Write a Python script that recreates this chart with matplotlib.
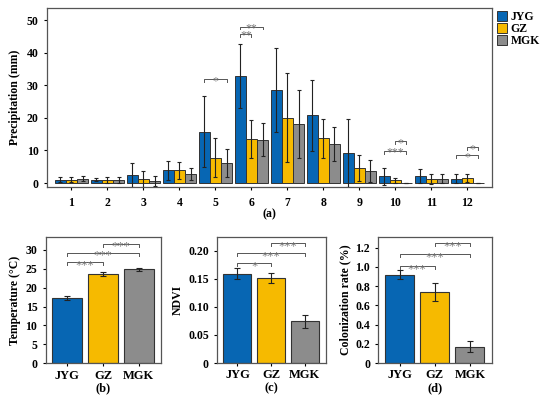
import matplotlib
matplotlib.use("Agg")
import matplotlib.pyplot as plt
import numpy as np
from matplotlib.patches import Patch

plt.rcParams['font.family'] = ['Liberation Serif', 'DejaVu Serif']

months = ['1', '2', '3', '4', '5', '6', '7', '8', '9', '10', '11', '12']
groups = ['JYG', 'GZ', 'MGK']
colors = ['#0766B3', '#F6BA00', '#8C8C8C']

jyg_p = [1.1, 1.0, 2.5, 4.0, 15.8, 32.8, 28.5, 20.8, 9.3, 2.1, 2.2, 1.4]
jyg_e = [0.8, 0.5, 3.7, 2.9, 10.8, 9.9, 12.8, 10.9, 10.5, 2.6, 2.1, 1.3]
gz_p = [1.1, 1.0, 1.2, 3.9, 7.8, 13.5, 20.0, 13.7, 4.6, 0.8, 1.2, 1.5]
gz_e = [0.9, 0.9, 2.5, 2.5, 5.9, 5.7, 13.6, 6.0, 3.9, 0.7, 1.5, 1.3]
mgk_p = [1.4, 1.0, 0.6, 2.7, 6.1, 13.3, 18.1, 11.9, 3.7, 0.1, 1.4, 0.1]
mgk_e = [0.9, 0.9, 1.5, 1.8, 4.2, 5.0, 10.5, 5.2, 3.4, 0.0, 1.5, 0.0]

# significance brackets in (a): month index, group i, group j, height, label
sig_a = [(5, 0, 2, 31.9, '*'), (6, 0, 1, 45.8, '**'), (6, 0, 2, 48.0, '**'),
         (10, 0, 2, 9.9, '***'), (10, 1, 2, 12.9, '*'),
         (12, 0, 2, 8.5, '*'), (12, 1, 2, 11.0, '*')]

temp = [17.3, 23.6, 24.9]
temp_e = [0.5, 0.4, 0.4]
ndvi = [0.159, 0.152, 0.074]
ndvi_e = [0.010, 0.009, 0.011]
colo = [0.92, 0.74, 0.17]
colo_e = [0.05, 0.09, 0.06]

sig_b = [(0, 1, 26.7, '***'), (0, 2, 29.2, '***'), (1, 2, 31.6, '***')]
sig_c = [(0, 1, 0.1776, '*'), (0, 2, 0.196, '***'), (1, 2, 0.2137, '***')]
sig_d = [(0, 1, 1.01, '***'), (0, 2, 1.134, '***'), (1, 2, 1.246, '***')]

fig = plt.figure(figsize=(5.5, 3.99), dpi=100)
spine_c = '#555555'
tick_fs = 8.5
edge = '#333333'
star_c = '#777777'


def style(ax):
    for s in ax.spines.values():
        s.set_color(spine_c)
        s.set_linewidth(0.9)
    ax.tick_params(axis='both', colors='black', labelsize=tick_fs, width=0.8, length=2.5)
    for lab in ax.get_xticklabels() + ax.get_yticklabels():
        lab.set_fontweight('bold')


def stars(ax, xc, y, lab, fs, off):
    # asterisks straddling the bracket line
    ax.annotate(lab, (xc, y), xytext=(0, off), textcoords='offset points',
                ha='center', va='baseline', fontsize=fs, color=star_c)


# ---- (a)
ax = fig.add_axes([0.0855, 0.5313, 0.8085, 0.448])
x = np.arange(1, 13)
w = 0.31
series = [(jyg_p, jyg_e), (gz_p, gz_e), (mgk_p, mgk_e)]
for k, (vals, errs) in enumerate(series):
    ax.bar(x + (k - 1) * w, vals, w, color=colors[k], edgecolor=edge, linewidth=0.7,
           yerr=errs, error_kw=dict(ecolor='#222222', elinewidth=0.8, capsize=1.5, capthick=0.8),
           label=groups[k])
ax.set_xlim(0.32, 12.68)
ax.set_ylim(-1.2, 53.6)
ax.set_yticks([0, 10, 20, 30, 40, 50])
ax.set_xticks(x)
ax.set_xticklabels(months)
ax.tick_params(axis='x', length=0, pad=5)
ax.set_ylabel('Precipitation (mm)', fontsize=8.5, fontweight='bold', labelpad=4)
style(ax)
ax.text(0.5, -0.155, '(a)', transform=ax.transAxes, ha='center', va='center',
        fontsize=8.5, fontweight='bold')
for m, i, j, h, lab in sig_a:
    x1 = m + (i - 1) * w
    x2 = m + (j - 1) * w
    ax.plot([x1, x1, x2, x2], [h - 0.9, h, h, h - 0.9], color='#555555', lw=0.7)
    stars(ax, (x1 + x2) / 2, h, lab, 8.5, -3.6)

handles = [Patch(facecolor=colors[k], edgecolor=edge, linewidth=0.7, label=groups[k]) for k in range(3)]
fig.legend(handles=handles, loc='upper left', bbox_to_anchor=(0.903, 0.972), frameon=False,
           prop=dict(size=8.5, weight='bold'), handlelength=0.9, handleheight=0.9,
           handletextpad=0.3, labelspacing=0.0, borderaxespad=0, borderpad=0)


def small_panel(rect, vals, errs, ylim, yticks, yticklabels, ylabel, sigs, tag, drop):
    ax = fig.add_axes(rect)
    xs = np.arange(3)
    ax.bar(xs, vals, 0.83, color=colors, edgecolor=edge, linewidth=0.8,
           yerr=errs, error_kw=dict(ecolor='#222222', elinewidth=0.8, capsize=2, capthick=0.8))
    ax.set_xlim(-0.6, 2.62)
    ax.set_ylim(*ylim)
    ax.set_yticks(yticks)
    ax.set_yticklabels(yticklabels)
    ax.set_xticks(xs)
    ax.set_xticklabels(groups)
    ax.set_ylabel(ylabel, fontsize=8.5, fontweight='bold', labelpad=3)
    style(ax)
    ax.tick_params(axis='x', labelsize=9, pad=2)
    for lab in ax.get_xticklabels():
        lab.set_fontweight('bold')
    ax.text(0.5, -0.2, tag, transform=ax.transAxes, ha='center', va='center',
            fontsize=9, fontweight='bold')
    for i, j, h, lab in sigs:
        ax.plot([i, i, j, j], [h - drop, h, h, h - drop], color='#555555', lw=0.7)
        stars(ax, (i + j) / 2, h, lab, 9, -4.2)
    return ax


small_panel([0.0831, 0.0895, 0.2096, 0.3158], temp, temp_e, (0, 33.3),
            [0, 5, 10, 15, 20, 25, 30], ['0', '5', '10', '15', '20', '25', '30'],
            'Temperature (°C)', sig_b, '(b)', 0.8)
small_panel([0.395, 0.0902, 0.197, 0.3165], ndvi, ndvi_e, (0, 0.225),
            [0, 0.05, 0.10, 0.15, 0.20], ['0', '0.05', '0.10', '0.15', '0.20'],
            'NDVI', sig_c, '(c)', 0.005)
small_panel([0.688, 0.0902, 0.206, 0.3165], colo, colo_e, (0, 1.315),
            [0, 0.2, 0.4, 0.6, 0.8, 1.0, 1.2], ['0', '0.2', '0.4', '0.6', '0.8', '1.0', '1.2'],
            'Colonization rate (%)', sig_d, '(d)', 0.03)

fig.savefig('out.png', dpi=100)
